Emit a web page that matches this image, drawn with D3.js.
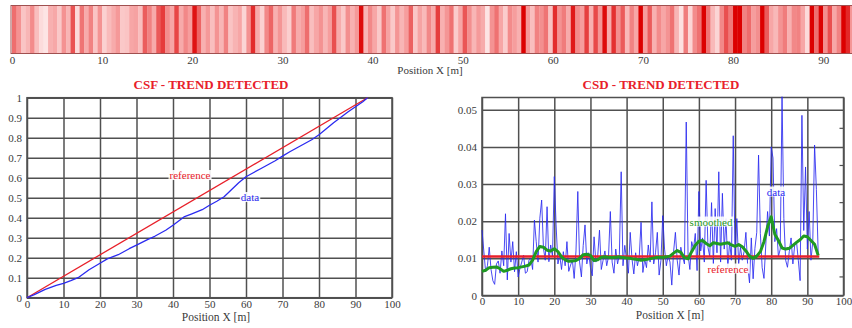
<!DOCTYPE html>
<html><head><meta charset="utf-8">
<script src="https://cdn.jsdelivr.net/npm/d3@7"></script>
<style>
body{margin:0;background:#fff;}
svg{display:block;}
svg text{font-family:"Liberation Serif","Times New Roman",serif !important;}
</style></head><body><svg id="c" width="852" height="328"></svg>
<script>
// ---------------- DATA ----------------
const csdStep = 0.5; // m between samples
const csdData = [
0.0176,0.012,0.0064,0.008,0.013,0.007,0.004,0.003,0.0085,0.0093,
0.006,0.012,0.008,0.022,0.0042,0.0167,0.009,0.0145,0.0064,0.0118,
0.005,0.0073,0.009,0.0109,0.006,0.0064,0.0095,0.0100,0.007,0.0203,
0.0145,0.009,0.0208,0.0257,0.0127,0.0095,0.0239,0.0091,0.0136,0.0105,
0.032,0.019,0.0085,0.0109,0.007,0.0118,0.008,0.0145,0.0065,0.0082,
0.0095,0.0046,0.012,0.028,0.009,0.005,0.0135,0.019,0.0085,0.0115,
0.0075,0.0053,0.0158,0.009,0.0105,0.0176,0.007,0.0095,0.012,0.008,
0.0105,0.0226,0.009,0.006,0.0125,0.0085,0.011,0.0333,0.008,0.0135,
0.0095,0.006,0.017,0.0098,0.0058,0.0115,0.008,0.0105,0.0197,0.0062,
0.0098,0.0075,0.0136,0.009,0.0252,0.0085,0.0115,0.017,0.0055,0.0095,
0.0215,0.0125,0.008,0.0108,0.009,0.0028,0.0118,0.017,0.0095,0.0055,
0.013,0.0105,0.0085,0.0467,0.011,0.007,0.0145,0.0125,0.0167,0.0067,
0.028,0.012,0.0155,0.009,0.031,0.013,0.0105,0.025,0.0085,0.0234,
0.0115,0.0333,0.009,0.0275,0.0125,0.0207,0.0075,0.0145,0.0095,0.043,
0.0105,0.0207,0.0085,0.013,0.0095,0.0118,0.017,0.008,0.0034,0.0155,
0.0045,0.0127,0.017,0.0378,0.0167,0.0075,0.0046,0.0136,0.0226,0.016,
0.040,0.037,0.0145,0.018,0.0105,0.0125,0.0535,0.0207,0.0095,0.0076,
0.0118,0.0155,0.0085,0.0136,0.0145,0.0095,0.004,0.0485,0.0175,0.0346,
0.0125,0.0226,0.0095,0.0145,0.0405,0.0285,0.0113
];
const smoothStep = 1; // m between smoothed samples
const csdSmoothed = [
0.0065,0.0068,0.0075,0.0076,0.0077,0.0072,0.0065,0.0068,0.0072,0.0074,
0.0075,0.0077,0.0079,0.0082,0.0095,0.0118,0.0132,0.0130,0.0122,0.0120,
0.0126,0.0118,0.0104,0.0096,0.0092,0.0093,0.0094,0.0100,0.0110,0.0111,
0.0108,0.0094,0.0096,0.0103,0.0104,0.0103,0.0102,0.0103,0.0104,0.0102,
0.0101,0.0100,0.0098,0.0097,0.0095,0.0096,0.0098,0.0100,0.0102,0.0103,
0.0103,0.0104,0.0106,0.0114,0.0121,0.0116,0.0102,0.0099,0.0118,0.0135,
0.0146,0.0148,0.0140,0.0134,0.0142,0.0140,0.0138,0.0140,0.0142,0.0136,
0.0132,0.0137,0.0131,0.0120,0.0106,0.0100,0.0106,0.0118,0.0145,0.0185,
0.0212,0.0165,0.0148,0.0128,0.0125,0.0127,0.0135,0.0143,0.0150,0.0160,
0.0158,0.0148,0.0138,0.0108
];
const csdReference = 0.0105;
const dataEnd = 93.3;

const csfX = [0,2,5,8,10,12,14,17,20,22,25,28,30,33,35,38,40,43,45,48,50,52,54,56,58,60,62,64,66,68,70,72,74,76,78,80,82,84,86,88,90,92,93.3];
const csfY = [0,0.015,0.042,0.062,0.072,0.085,0.1,0.14,0.172,0.194,0.215,0.245,0.263,0.29,0.307,0.337,0.362,0.404,0.418,0.44,0.462,0.482,0.505,0.54,0.575,0.605,0.625,0.645,0.665,0.685,0.708,0.73,0.75,0.77,0.79,0.815,0.845,0.875,0.902,0.93,0.955,0.98,1.0];
const csfReference = [[0,0],[93.3,1]];

const stripTicks = [0,10,20,30,40,50,60,70,80,90];
const xTicks = [0,10,20,30,40,50,60,70,80,90,100];
const csfTicks = [0,0.1,0.2,0.3,0.4,0.5,0.6,0.7,0.8,0.9,1];
const csdTicks = [0,0.01,0.02,0.03,0.04,0.05];
const csdMinorTicks = [0.005,0.015,0.025,0.035,0.045];

const titleCSF = "CSF - TREND DETECTED";
const titleCSD = "CSD - TREND DETECTED";
const axisTitle = "Position X [m]";

// ---------------- DRAW ----------------
const svg = d3.select("#c");
const RED = "#e8202a", BLUE = "#2a2af0", GREEN = "#1f9a22", GRID = "#505050", TXT = "#3a3a3a";

// strip
const xs = d3.scaleLinear().domain([0, 93.2]).range([12, 852]);
const stripColor = d3.scaleLinear().domain([0.003, 0.011, 0.035])
  .range(["#fde4e4", "#f59898", "#dc0000"]).clamp(true);
const strip = svg.append("g");
strip.selectAll("rect").data(csdData).join("rect")
  .attr("x", (d,i) => xs(i*csdStep))
  .attr("width", xs(csdStep) - xs(0) + 0.3)
  .attr("y", 6).attr("height", 47)
  .attr("fill", d => stripColor(d));
strip.append("rect").attr("x", 11).attr("y", 5.5).attr("width", 845).attr("height", 48)
  .attr("fill", "none").attr("stroke", "#a05050").attr("stroke-width", 1);
strip.append("g").attr("transform", "translate(0,53)")
  .call(d3.axisBottom(xs).tickValues(stripTicks).tickSize(0).tickPadding(3))
  .call(g => g.select(".domain").remove())
  .selectAll("text").attr("font-size", 11).attr("fill", TXT);
svg.append("text").attr("x", 430).attr("y", 74).attr("text-anchor", "middle")
  .attr("font-size", 11).attr("fill", TXT).text(axisTitle);

function panel(x, y, xt, yt, yfmt, padX, title, titleX, axTitleX) {
  const g = svg.append("g");
  const [y0, y1] = y.range();
  const [x0, x1] = x.range();
  g.append("rect").attr("x", x0).attr("y", y1).attr("width", x1 - x0).attr("height", y0 - y1)
    .attr("fill", "#fff");
  g.append("g").attr("transform", `translate(0,${y0})`)
    .call(d3.axisBottom(x).tickValues(xt).tickSize(-(y0 - y1)).tickPadding(padX).tickFormat(d3.format("d")))
    .call(a => a.select(".domain").remove())
    .call(a => a.selectAll("line").attr("stroke", GRID).attr("stroke-width", 1.5))
    .call(a => a.selectAll("text").attr("font-size", 11).attr("fill", TXT));
  g.append("g").attr("transform", `translate(${x0},0)`)
    .call(d3.axisLeft(y).tickValues(yt).tickSize(-(x1 - x0)).tickPadding(5).tickFormat(yfmt))
    .call(a => a.select(".domain").remove())
    .call(a => a.selectAll("line").attr("stroke", GRID).attr("stroke-width", 1.5))
    .call(a => a.selectAll("text").attr("font-size", 11).attr("fill", TXT));
  g.append("rect").attr("x", x0).attr("y", y1).attr("width", x1 - x0).attr("height", y0 - y1)
    .attr("fill", "none").attr("stroke", GRID).attr("stroke-width", 1.5);
  svg.append("text").attr("x", titleX).attr("y", 89).attr("text-anchor", "middle")
    .attr("font-size", 13).attr("font-weight", "bold").attr("fill", RED).text(title);
  svg.append("text").attr("x", axTitleX).attr("y", y0 + 23).attr("text-anchor", "middle")
    .attr("font-size", 11.5).attr("fill", TXT).text(axisTitle);
  return g;
}

function label(g, x, y, txt, color) {
  const t = g.append("text").attr("x", x).attr("y", y).attr("text-anchor", "middle")
    .attr("dominant-baseline", "middle").attr("font-size", 11).attr("fill", color).text(txt);
  const b = t.node().getBBox();
  g.insert("rect", () => t.node()).attr("x", b.x - 1).attr("y", b.y + 1).attr("width", b.width + 2)
    .attr("height", b.height - 2).attr("fill", "#fff").attr("opacity", 0.9);
}

const fmt = d => String(+d.toFixed(3));

// left: CSF
const xL = d3.scaleLinear().domain([0, 100]).range([27, 392]);
const yL = d3.scaleLinear().domain([0, 1]).range([297.7, 97.7]);
const gL = panel(xL, yL, xTicks, csfTicks, fmt, 3, titleCSF, 211, 216);
gL.append("path").datum(csfReference)
  .attr("d", d3.line().x(d => xL(d[0])).y(d => yL(d[1])))
  .attr("fill", "none").attr("stroke", RED).attr("stroke-width", 1.3);
gL.append("path").datum(csfX.map((v, i) => [v, csfY[i]]))
  .attr("d", d3.line().x(d => xL(d[0])).y(d => yL(d[1])))
  .attr("fill", "none").attr("stroke", BLUE).attr("stroke-width", 1.3).attr("stroke-linejoin", "round");
label(gL, 190, 176.5, "reference", RED);
label(gL, 250, 198.5, "data", BLUE);

// right: CSD
const xR = d3.scaleLinear().domain([0, 100]).range([482, 843.5]);
const yR = d3.scaleLinear().domain([0, 0.0533]).range([295.5, 97.5]);
const gR = panel(xR, yR, xTicks, csdTicks, fmt, 1.5, titleCSD, 661, 670);
gR.append("g").selectAll("line").data(csdMinorTicks).join("line")
  .attr("x1", xR(100) - 4).attr("x2", xR(100))
  .attr("y1", d => yR(d)).attr("y2", d => yR(d))
  .attr("stroke", GRID).attr("stroke-width", 1.2);
gR.append("path").datum(csdData)
  .attr("d", d3.line().x((d, i) => xR(Math.min(i * csdStep, dataEnd))).y(d => yR(d)))
  .attr("fill", "none").attr("stroke", BLUE).attr("stroke-width", 1).attr("opacity", 0.85);
gR.append("path").datum([[0, csdReference], [dataEnd, csdReference]])
  .attr("d", d3.line().x(d => xR(d[0])).y(d => yR(d[1])))
  .attr("fill", "none").attr("stroke", RED).attr("stroke-width", 2.5);
gR.append("path").datum(csdSmoothed)
  .attr("d", d3.line().x((d, i) => xR(Math.min(i * smoothStep, dataEnd))).y(d => yR(d)))
  .attr("fill", "none").attr("stroke", GREEN).attr("stroke-width", 3).attr("stroke-linejoin", "round");
label(gR, 711, 223, "smoothed", GREEN);
label(gR, 728, 270, "reference", RED);
label(gR, 776, 193, "data", BLUE);
</script></body></html>
